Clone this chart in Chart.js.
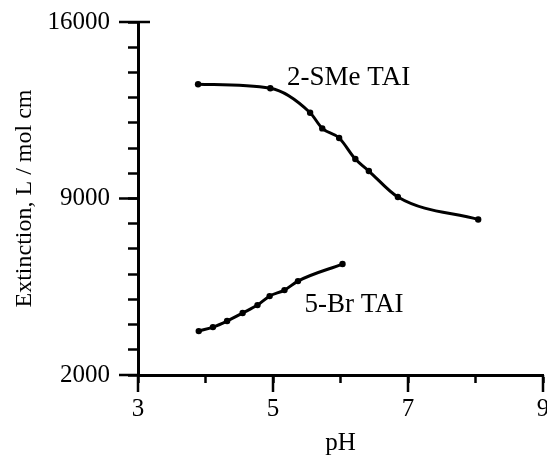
<!DOCTYPE html>
<html>
<head>
<meta charset="utf-8">
<script src="https://cdn.jsdelivr.net/npm/chart.js@4/dist/chart.umd.min.js"></script>
<style>
    html, body { margin: 0; padding: 0; background: #fff; }
    #wrap { width: 547px; height: 458px; }
</style>
</head>
<body>
<div id="wrap"><canvas id="myChart"></canvas></div>
<script>
// data
var smePH = [3.89, 4.96, 5.55, 5.73, 5.98, 6.22, 6.42, 6.85, 8.04];
var smeExt = [13530, 13370, 12400, 11780, 11400, 10565, 10090, 9060, 8170];

var brPH = [3.90, 4.11, 4.32, 4.55, 4.77, 4.95, 5.17, 5.37, 6.03];
var brExt = [3742, 3900, 4140, 4456, 4773, 5130, 5368, 5725, 6400];

var xTickLabels = [3, 5, 7, 9];
var yTickLabels = [2000, 9000, 16000];

var seriesNames = ['2-SMe TAI', '5-Br TAI'];
// where the series names sit, in data units
var namePH = [6.12, 6.2];
var nameExt = [13780, 4770];

var FONT = "'Liberation Serif', 'Times New Roman', serif";

function toPoints(xs, ys)
{
    var pts = [];
    for (var i = 0; i < xs.length; i++)
        pts.push({x: xs[i], y: ys[i]});
    return pts;
}

// longer ticks for the labelled values + series names
var extras = {
    id: 'extras',
    afterDraw: function (chart) {
        var ctx = chart.ctx;
        var area = chart.chartArea;
        var xs = chart.scales.x;
        var ys = chart.scales.y;

        ctx.save();
        ctx.strokeStyle = '#000';
        ctx.lineWidth = 2.5;
        ctx.beginPath();
        yTickLabels.forEach(function (v) {
            var p = ys.getPixelForValue(v);
            ctx.moveTo(area.left - 19, p);
            // the top one crosses the axis
            ctx.lineTo(v === ys.max ? area.left + 12 : area.left, p);
        });
        xTickLabels.forEach(function (v) {
            var p = xs.getPixelForValue(v);
            ctx.moveTo(p, area.bottom);
            ctx.lineTo(p, area.bottom + 17);
        });
        ctx.stroke();

        ctx.fillStyle = '#000';
        ctx.font = '27px ' + FONT;
        ctx.textAlign = 'center';
        ctx.textBaseline = 'middle';
        seriesNames.forEach(function (name, i) {
            ctx.fillText(name, xs.getPixelForValue(namePH[i]), ys.getPixelForValue(nameExt[i]));
        });
        ctx.restore();
    }
};

var lineStyle = {
    borderColor: '#000',
    backgroundColor: '#000',
    borderWidth: 3,
    pointRadius: 3.2,
    pointBackgroundColor: '#000',
    pointBorderWidth: 0,
    showLine: true,
    cubicInterpolationMode: 'monotone',
    fill: false
};

var ctx = document.getElementById('myChart').getContext('2d');
var myChart = new Chart(ctx, {
    type: 'scatter',
    data: {
        datasets: [
            Object.assign({label: seriesNames[0], data: toPoints(smePH, smeExt)}, lineStyle),
            Object.assign({label: seriesNames[1], data: toPoints(brPH, brExt)}, lineStyle)
        ]
    },
    options: {
        responsive: true,
        maintainAspectRatio: false,
        animation: false,
        layout: {padding: {top: 22, right: 2, left: 0, bottom: 0}},
        plugins: {
            legend: {display: false},
            tooltip: {enabled: false}
        },
        scales: {
            x: {
                type: 'linear',
                min: 3,
                max: 9,
                afterFit: function (scale) {
                    scale.height = 83;
                    scale.paddingLeft = 0;
                    scale.paddingRight = 0;
                },
                border: {display: true, color: '#000', width: 3},
                grid: {drawOnChartArea: false, drawTicks: true, tickLength: 8, tickWidth: 2.5, tickColor: '#000'},
                ticks: {
                    stepSize: 1,
                    autoSkip: false,
                    maxRotation: 0,
                    padding: 11,
                    color: '#000',
                    font: {family: FONT, size: 25},
                    callback: function (v) {
                        return xTickLabels.indexOf(v) >= 0 ? String(v) : '';
                    }
                },
                title: {
                    display: true,
                    text: 'pH',
                    color: '#000',
                    font: {family: FONT, size: 25},
                    padding: {top: 4, bottom: 0}
                }
            },
            y: {
                type: 'linear',
                min: 2000,
                max: 16000,
                afterFit: function (scale) {
                    scale.width = 138;
                    scale.paddingTop = 0;
                    scale.paddingBottom = 0;
                },
                border: {display: true, color: '#000', width: 3},
                grid: {drawOnChartArea: false, drawTicks: true, tickLength: 10, tickWidth: 2.5, tickColor: '#000'},
                ticks: {
                    stepSize: 1000,
                    autoSkip: false,
                    padding: 18,
                    color: '#000',
                    font: {family: FONT, size: 25},
                    callback: function (v) {
                        return yTickLabels.indexOf(v) >= 0 ? String(v) : '';
                    }
                },
                title: {
                    display: true,
                    text: 'Extinction, L / mol cm',
                    color: '#000',
                    font: {family: FONT, size: 24},
                    padding: {top: 10, bottom: 4}
                }
            }
        }
    },
    plugins: [extras]
});
</script>
</body>
</html>
